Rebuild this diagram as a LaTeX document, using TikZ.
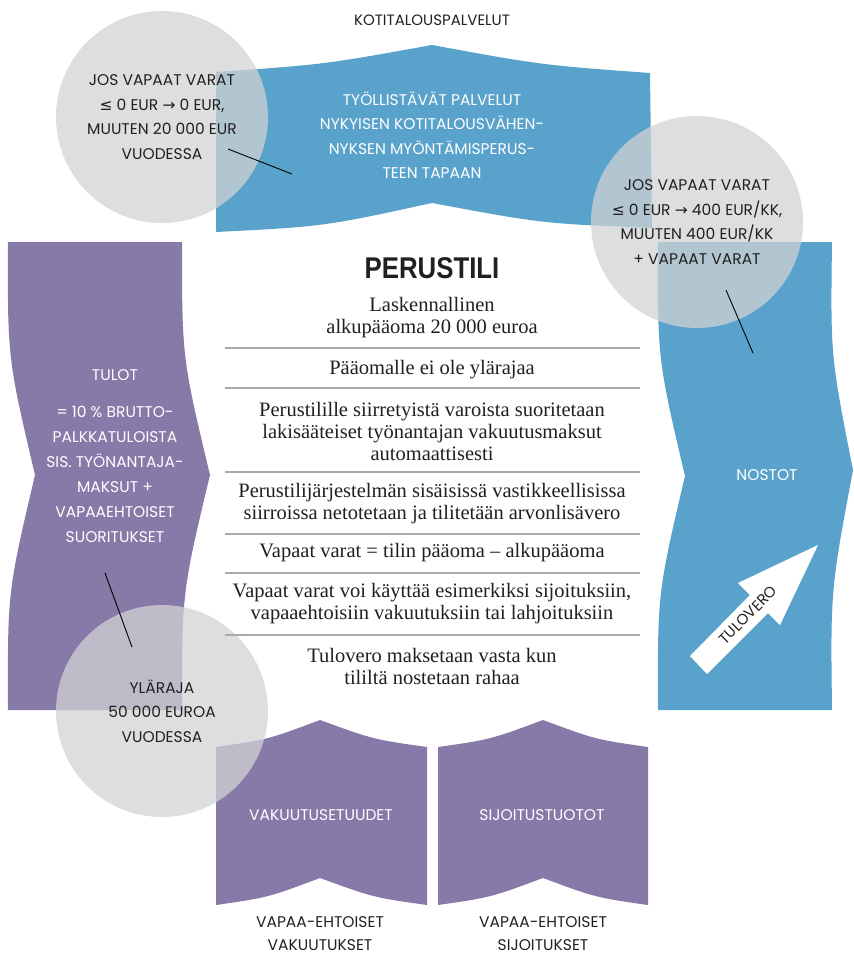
\documentclass[tikz,border=0pt]{standalone}
\usepackage{fontspec}
\setmainfont{Liberation Serif}
\newfontfamily\futura{Poppins}
\newfontfamily\symb{DejaVu Sans}
\newfontfamily\otsikko[FakeStretch=0.86]{Liberation Sans}

\definecolor{sininen}{HTML}{59A2CC}
\definecolor{violetti}{HTML}{877AA8}
\definecolor{harmaa}{HTML}{D1D3D4}
\definecolor{viiva}{HTML}{A7A9AC}
\definecolor{teksti}{HTML}{231F20}

\begin{document}
\begin{tikzpicture}[x=1pt, y=-1pt,
    sans/.style={font=\futura\fontsize{15.5}{24.5}\selectfont, align=center, text=teksti},
    valko/.style={sans, text=white},
    pallo/.style={circle, fill=harmaa, fill opacity=0.75, text opacity=1,
                  minimum size=212pt, inner sep=0pt, sans},
    kohta/.style={font=\fontsize{20.5}{22}\selectfont, align=center, text=teksti},
    erotin/.style={draw=viiva, line width=1.2pt},
    osoitin/.style={draw=black, line width=0.9pt}]
  \useasboundingbox (0,0) rectangle (854,956);

  % kotitalouspalvelut
  \fill[sininen] (216,72) .. controls (324,64.5) .. (432,45) .. controls (541,65) .. (650,73)
     -- (652,228) .. controls (542,223.5) .. (432,203) .. controls (324,226.5) .. (216,232) -- cycle;
  % tulot
  \fill[violetti] (8,242) -- (182,242) .. controls (182,358) .. (210,475) .. controls (182,592) .. (182,710)
     -- (8,710) .. controls (7.5,592) .. (35,475) .. controls (7.5,358) .. cycle;
  % nostot
  \fill[sininen] (658,242) -- (832,242) .. controls (830.5,356) .. (853,470) .. controls (830.5,590) .. (832,710)
     -- (658,710) .. controls (657.5,593) .. (685,476) .. controls (657.5,359) .. cycle;
  % vakuutukset ja sijoitukset
  \fill[violetti] (216,747) .. controls (268,739.5) .. (320,720) .. controls (373.5,739.5) .. (427,747)
     -- (427,905) .. controls (373.5,897.5) .. (320,878) .. controls (268,897.5) .. (216,905) -- cycle;
  \fill[violetti] (438,747) .. controls (490.5,739.5) .. (543,720) .. controls (595.5,739.5) .. (648,747)
     -- (648,905) .. controls (595.5,897.5) .. (543,878) .. controls (490.5,897.5) .. (438,905) -- cycle;

  % tulovero
  \fill[white] (690,656) -- (750,595) -- (738,583) -- (818,545) -- (780,625) -- (768,613) -- (707,674) -- cycle;
  \node[sans, font=\futura\fontsize{15}{18}\selectfont, rotate=45] (tulovero) at (748,615) {TULOVERO};

  \node[sans, font=\futura\fontsize{15}{18}\selectfont] (otsikko) at (432,20) {KOTITALOUSPALVELUT};
  \node[valko] (palvelut) at (432,135) {TYÖLLISTÄVÄT PALVELUT\\NYKYISEN KOTITALOUSVÄHEN-\\NYKSEN MYÖNTÄMISPERUS-\\TEEN TAPAAN};
  \node[valko] (tulot) at (115,375) {TULOT};
  \node[valko, font=\futura\fontsize{15.5}{25}\selectfont] (tulotselite) at (115,474) {= 10 \% BRUTTO-\\PALKKATULOISTA\\SIS. TYÖNANTAJA-\\MAKSUT +\\VAPAAEHTOISET\\SUORITUKSET};
  \node[valko] (nostot) at (767,475) {NOSTOT};
  \node[valko] (vakuutus) at (321,815) {VAKUUTUSETUUDET};
  \node[valko] (sijoitus) at (542,815) {SIJOITUSTUOTOT};
  \node[sans, font=\futura\fontsize{15.5}{23}\selectfont] (vakuutusala) at (320,934) {VAPAA-EHTOISET\\VAKUUTUKSET};
  \node[sans, font=\futura\fontsize{15.5}{23}\selectfont] (sijoitusala) at (543,934) {VAPAA-EHTOISET\\SIJOITUKSET};

  % ympyrat
  \node[pallo] (ylaraja1) at (162,117) {JOS VAPAAT VARAT\\{\symb ≤} 0 EUR {\symb →} 0 EUR,\\MUUTEN 20 000 EUR\\VUODESSA};
  \node[pallo] (ylaraja2) at (697,222) {JOS VAPAAT VARAT\\{\symb ≤} 0 EUR {\symb →} 400 EUR/KK,\\MUUTEN 400 EUR/KK\\+ VAPAAT VARAT};
  \node[pallo] (ylaraja3) at (162,711) {YLÄRAJA\\50 000 EUROA\\VUODESSA};

  \coordinate (p1a) at (228,149);
  \coordinate (p1b) at (292,174);
  \coordinate (p2a) at (726,290);
  \coordinate (p2b) at (753,353);
  \coordinate (p3a) at (105,573);
  \coordinate (p3b) at (132,647);
  \draw[osoitin] (p1a) -- (p1b);
  \draw[osoitin] (p2a) -- (p2b);
  \draw[osoitin] (p3a) -- (p3b);

  % perustili
  \node[font=\otsikko\bfseries\fontsize{30}{32}\selectfont, text=teksti] (perustili) at (432,268) {PERUSTILI};
  \node[kohta] (kohta1) at (432,318) {Laskennallinen\\alkupääoma 20 000 euroa};
  \node[kohta] (kohta2) at (432,370) {Pääomalle ei ole ylärajaa};
  \node[kohta] (kohta3) at (432,431) {Perustilille siirretyistä varoista suoritetaan\\lakisääteiset työnantajan vakuutusmaksut\\automaattisesti};
  \node[kohta] (kohta4) at (432,504) {Perustilijärjestelmän sisäisissä vastikkeellisissa\\siirroissa netotetaan ja tilitetään arvonlisävero};
  \node[kohta] (kohta5) at (432,553) {Vapaat varat = tilin pääoma – alkupääoma};
  \node[kohta] (kohta6) at (432,604) {Vapaat varat voi käyttää esimerkiksi sijoituksiin,\\vapaaehtoisiin vakuutuksiin tai lahjoituksiin};
  \node[kohta] (kohta7) at (432,666) {Tulovero maksetaan vasta kun\\tililtä nostetaan rahaa};
  \foreach \y in {348,388,472,534,573,635}
    \draw[erotin] (225,\y) -- (640,\y);
\end{tikzpicture}
\end{document}
